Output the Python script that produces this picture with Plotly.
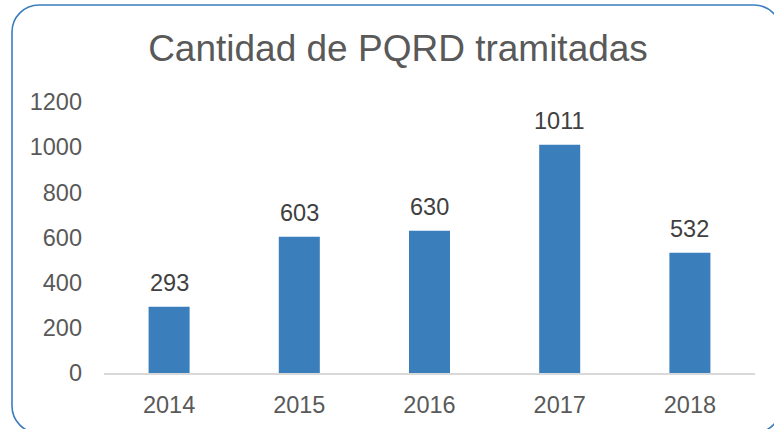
import plotly.graph_objects as go

# Annual count of processed PQRD
years = ["2014", "2015", "2016", "2017", "2018"]
counts = [293, 603, 630, 1011, 532]
y_ticks = [0, 200, 400, 600, 800, 1000, 1200]

W, H = 774, 429
M_L, M_R, M_T, M_B = 104, 19, 102, 56
BAR_COLOR = "#3A7EBB"
FONT = "Liberation Sans, Arial, sans-serif"
LABEL_SIZE = 23.5

fig = go.Figure(
    go.Bar(
        x=years,
        y=counts,
        marker=dict(color=BAR_COLOR, line=dict(width=0)),
        width=0.315,
        hoverinfo="x+y",
    )
)

# value labels above each bar (category index positions)
for i, v in enumerate(counts):
    fig.add_annotation(
        x=i, y=v, text=str(v), showarrow=False,
        yanchor="bottom", yshift=9,
        font=dict(family=FONT, size=LABEL_SIZE, color="#404040"),
    )

# rounded frame around the whole chart, built in pixel space and mapped to paper units
pw, ph = W - M_L - M_R, H - M_T - M_B


def px(x):
    return (x - M_L) / pw


def py(y):
    return (H - M_B - y) / ph


x0, y0, x1, y1, r = 12, 5, 781, 433, 27
c = 0.5523 * r  # cubic approximation of a quarter circle
path = (
    f"M {px(x0 + r)},{py(y0)} L {px(x1 - r)},{py(y0)} "
    f"C {px(x1 - r + c)},{py(y0)} {px(x1)},{py(y0 + r - c)} {px(x1)},{py(y0 + r)} "
    f"L {px(x1)},{py(y1 - r)} "
    f"C {px(x1)},{py(y1 - r + c)} {px(x1 - r + c)},{py(y1)} {px(x1 - r)},{py(y1)} "
    f"L {px(x0 + r)},{py(y1)} "
    f"C {px(x0 + r - c)},{py(y1)} {px(x0)},{py(y1 - r + c)} {px(x0)},{py(y1 - r)} "
    f"L {px(x0)},{py(y0 + r)} "
    f"C {px(x0)},{py(y0 + r - c)} {px(x0 + r - c)},{py(y0)} {px(x0 + r)},{py(y0)} Z"
)
fig.add_shape(type="path", path=path, xref="paper", yref="paper",
              line=dict(color="#3A7DC0", width=1.6), layer="above")

fig.update_layout(
    width=W, height=H,
    margin=dict(l=M_L, r=M_R, t=M_T, b=M_B, pad=0),
    paper_bgcolor="white", plot_bgcolor="white",
    showlegend=False,
    title=dict(
        text="Cantidad de PQRD tramitadas",
        x=(398 - M_L) / pw, xref="paper", xanchor="center",
        y=1 - 48 / H, yanchor="middle",
        font=dict(family=FONT, size=37, color="#595959"),
    ),
    xaxis=dict(
        type="category", range=[-0.5, len(years) - 0.5],
        showgrid=False, showline=True, linecolor="#D9D9D9", linewidth=1.5,
        ticks="", tickfont=dict(family=FONT, size=LABEL_SIZE, color="#595959"),
        ticklabelstandoff=10,
    ),
    yaxis=dict(
        range=[0, 1200], tickvals=y_ticks, showgrid=False, zeroline=False,
        showline=False, ticks="",
        tickfont=dict(family=FONT, size=LABEL_SIZE, color="#595959"),
        ticklabelstandoff=21,
    ),
)

fig.write_html("out.html")
